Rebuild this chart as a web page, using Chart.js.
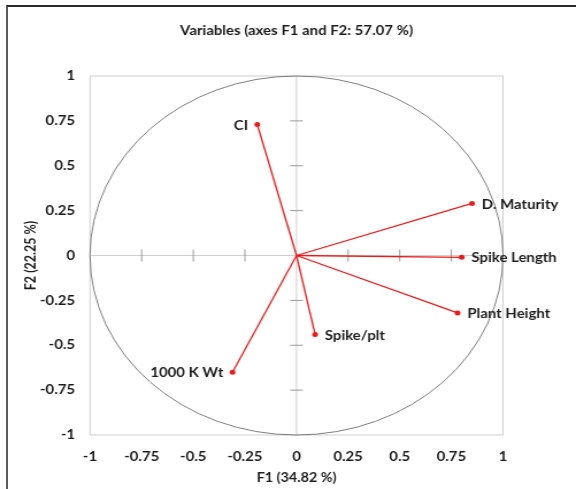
<!DOCTYPE html>
<html>
<head>
<meta charset="utf-8">
<script src="https://cdn.jsdelivr.net/npm/chart.js@4.4.1/dist/chart.umd.min.js"></script>
<style>
  html, body { margin: 0; padding: 0; background: #fff; }
  #wrap { position: relative; width: 576px; height: 489px; overflow: hidden; }
  #frame {
    position: absolute; left: 6px; top: 5px; right: -10px; bottom: -10px;
    border-top: 2px solid #2b2b2b; border-left: 2px solid #5a5a5a;
  }
  /* the original export is stretched horizontally (circle shows as an ellipse) */
  canvas { position: absolute; left: 0; top: 0; transform-origin: 0 0; transform: scaleX(1.1497); }
</style>
</head>
<body>
<div id="wrap">
  <div id="frame"></div>
  <canvas id="c" width="501" height="489"></canvas>
</div>
<script>
// variables and their loadings on F1 / F2
const variables = ['CI', 'D. Maturity', 'Spike Length', 'Plant Height', 'Spike/plt', '1000 K Wt'];
const f1 = [-0.19, 0.85, 0.80, 0.78, 0.09, -0.31];
const f2 = [0.73, 0.29, -0.01, -0.32, -0.44, -0.65];
const tickValues = [-1, -0.75, -0.5, -0.25, 0, 0.25, 0.5, 0.75, 1];

const titleText = 'Variables (axes F1 and F2: 57.07 %)';
const xTitle = 'F1 (34.82 %)';
const yTitle = 'F2 (22.25 %)';

const FONT = 'Lato, "Open Sans", sans-serif';
const RED = '#ee1a1a';
const INK = '#1c1c1c';
const leftLabels = ['CI', '1000 K Wt'];

// one dataset per vector: origin -> loading
const datasets = variables.map((name, i) => ({
  label: name,
  data: [{ x: 0, y: 0 }, { x: f1[i], y: f2[i] }],
  showLine: true,
  borderColor: RED,
  borderWidth: 1.3,
  pointRadius: [0, 2.5],
  pointBackgroundColor: RED,
  pointBorderWidth: 0,
}));

// plot box, zero axes with small ticks, unit circle, labels, title
const circlePlugin = {
  id: 'circle',
  beforeDatasetsDraw(chart) {
    const { ctx, chartArea: a, scales: { x, y } } = chart;
    const x0 = x.getPixelForValue(0), y0 = y.getPixelForValue(0);
    ctx.save();
    ctx.strokeStyle = '#cfcfcf';
    ctx.lineWidth = 1;
    ctx.strokeRect(a.left, a.top, a.right - a.left, a.bottom - a.top);
    ctx.beginPath();
    ctx.moveTo(x0, a.top); ctx.lineTo(x0, a.bottom);
    ctx.moveTo(a.left, y0); ctx.lineTo(a.right, y0);
    ctx.stroke();
    ctx.strokeStyle = '#999';
    ctx.beginPath();
    tickValues.forEach(v => {
      if (v === 0 || Math.abs(v) === 1) return;
      const px = x.getPixelForValue(v), py = y.getPixelForValue(v);
      ctx.moveTo(px, y0 - 6); ctx.lineTo(px, y0 + 6);
      ctx.moveTo(x0 - 5.5, py); ctx.lineTo(x0 + 5.5, py);
    });
    ctx.stroke();
    const rx = x.getPixelForValue(1) - x0, ry = y0 - y.getPixelForValue(1);
    ctx.strokeStyle = '#707070';
    ctx.lineWidth = 0.9;
    ctx.beginPath();
    ctx.ellipse(x0, y0, rx, ry, 0, 0, Math.PI * 2);
    ctx.stroke();
    ctx.restore();
  },
  afterDatasetsDraw(chart) {
    const { ctx, chartArea: a, scales: { x, y } } = chart;
    ctx.save();
    ctx.font = 'bold 13px ' + FONT;
    ctx.fillStyle = INK;
    ctx.textBaseline = 'middle';
    variables.forEach((name, i) => {
      const px = x.getPixelForValue(f1[i]), py = y.getPixelForValue(f2[i]);
      if (leftLabels.includes(name)) {
        ctx.textAlign = 'right';
        ctx.fillText(name, px - 8, py + 1);
      } else {
        ctx.textAlign = 'left';
        ctx.fillText(name, px + 8.5, py + 1);
      }
    });
    // chart title, centred over the plot area
    ctx.textAlign = 'center';
    ctx.fillText(titleText, (a.left + a.right) / 2, 31);
    ctx.restore();
  }
};

const tickFont = { family: FONT, size: 13, weight: 'bold' };
const axisTitleFont = { family: FONT, size: 12.5, weight: 'bold' };

new Chart(document.getElementById('c'), {
  type: 'scatter',
  data: { datasets },
  plugins: [circlePlugin],
  options: {
    responsive: false,
    animation: false,
    layout: { padding: { left: 0, right: 63.5, top: 76, bottom: 0 } },
    plugins: {
      legend: { display: false },
      tooltip: { enabled: false },
      title: { display: false }
    },
    scales: {
      x: {
        type: 'linear', min: -1, max: 1,
        afterBuildTicks: s => { s.ticks = tickValues.map(v => ({ value: v })); },
        afterFit: s => { s.height = 54; },
        grid: { display: false, drawTicks: false },
        border: { display: false },
        ticks: { color: INK, font: tickFont, padding: 14, maxRotation: 0, callback: v => String(v) },
        title: { display: true, text: xTitle, color: INK, font: axisTitleFont, padding: { bottom: 3.5, top: 0 } }
      },
      y: {
        type: 'linear', min: -1, max: 1,
        afterBuildTicks: s => { s.ticks = tickValues.map(v => ({ value: v })); },
        afterFit: s => { s.width = 78.3; },
        grid: { display: false, drawTicks: false },
        border: { display: false },
        ticks: { color: INK, font: tickFont, padding: 13, callback: v => String(v) },
        title: { display: true, text: yTitle, color: INK, font: axisTitleFont, padding: { top: 19.5, bottom: 0 } }
      }
    }
  }
});
</script>
</body>
</html>
